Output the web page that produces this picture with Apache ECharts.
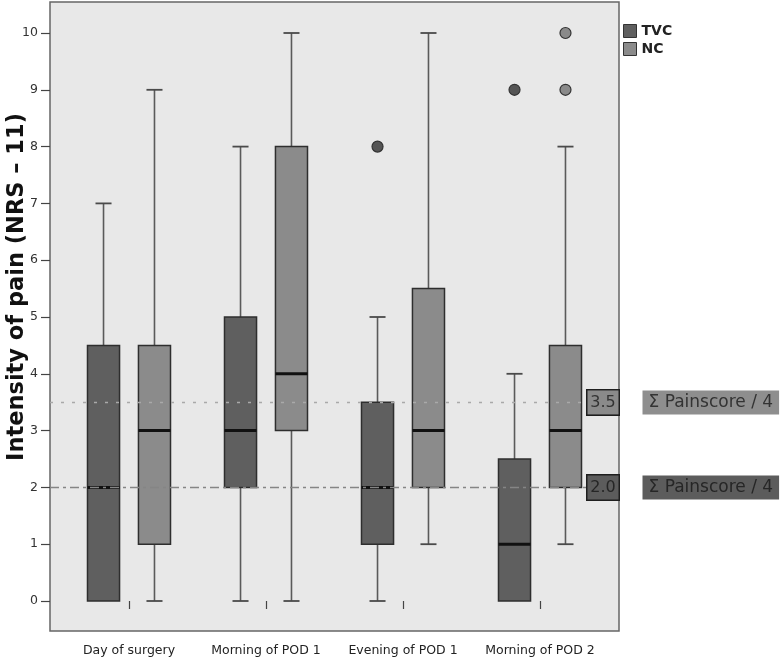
<!DOCTYPE html>
<html><head><meta charset="utf-8">
<script src="https://cdn.jsdelivr.net/npm/echarts@6/dist/echarts.min.js"></script>
<style>html,body{margin:0;padding:0;background:#fff}#c{width:781px;height:658px}</style>
</head><body><div id="c"></div>
<script>
// ---- data ----
const categories = ['Day of surgery', 'Morning of POD 1', 'Evening of POD 1', 'Morning of POD 2'];
// [min, Q1, median, Q3, max]
const tvcBoxes = [[0, 0, 2, 4.5, 7], [0, 2, 3, 5, 8], [0, 1, 2, 3.5, 5], [0, 0, 1, 2.5, 4]];
const ncBoxes = [[0, 1, 3, 4.5, 9], [0, 3, 4, 8, 10], [1, 2, 3, 5.5, 10], [1, 2, 3, 4.5, 8]];
// [category index, value]
const tvcOutliers = [[2, 8], [3, 9]];
const ncOutliers = [[3, 9], [3, 10]];
const refValues = [3.5, 2.0];
const refLabels = ['3.5', '2.0'];
const refText = 'Σ Painscore / 4';
const seriesNames = ['TVC', 'NC'];

// ---- styles ----
const FONT = 'DejaVu Sans';
const fills = ['#5f5f5f', '#8b8b8b'];
const OFFSET_RATIO = 0.186, BOX_RATIO = 0.234;

function boxRender(side, fill) {
  return function (params, api) {
    const ci = api.value(0);
    const band = api.size([1, 0])[0];
    const cx = api.coord([ci, 0])[0] + side * band * OFFSET_RATIO;
    const bw = band * BOX_RATIO;
    const y = i => api.coord([ci, api.value(i)])[1];
    const yMin = y(1), yQ1 = y(2), yMed = y(3), yQ3 = y(4), yMax = y(5);
    const ws = { stroke: '#5a5a5a', lineWidth: 1.6 };
    const ch = [];
    if (yQ3 - yMax > 0.5) {
      ch.push({ type: 'line', shape: { x1: cx, y1: yQ3, x2: cx, y2: yMax }, style: ws });
      ch.push({ type: 'line', shape: { x1: cx - bw / 4, y1: yMax, x2: cx + bw / 4, y2: yMax }, style: { stroke: '#4a4a4a', lineWidth: 1.8 } });
    }
    if (yMin - yQ1 > 0.5) {
      ch.push({ type: 'line', shape: { x1: cx, y1: yQ1, x2: cx, y2: yMin }, style: ws });
      ch.push({ type: 'line', shape: { x1: cx - bw / 4, y1: yMin, x2: cx + bw / 4, y2: yMin }, style: { stroke: '#4a4a4a', lineWidth: 1.8 } });
    }
    ch.push({ type: 'rect', shape: { x: cx - bw / 2, y: yQ3, width: bw, height: yQ1 - yQ3 }, style: { fill: fill, stroke: '#2e2e2e', lineWidth: 1.5 } });
    ch.push({ type: 'line', shape: { x1: cx - bw / 2, y1: yMed, x2: cx + bw / 2, y2: yMed }, style: { stroke: '#111', lineWidth: 3 } });
    return { type: 'group', children: ch };
  };
}
function outlierRender(side, fill) {
  return function (params, api) {
    const ci = api.value(0);
    const band = api.size([1, 0])[0];
    const p = api.coord([ci, api.value(1)]);
    return { type: 'circle', shape: { cx: p[0] + side * band * OFFSET_RATIO, cy: p[1], r: 5.5 }, style: { fill: fill, stroke: '#333', lineWidth: 1.2 } };
  };
}

const refStyles = [
  { line: { color: '#a9a9a9', width: 1.5, type: [3, 8] }, v: '#8a8a8a', t: '#8e8e8e', txt: '#333' },
  { line: { color: '#858585', width: 1.5, type: [9, 4, 3, 4] }, v: '#5c5c5c', t: '#5c5c5c', txt: '#262626' }
];

const series = [];
[tvcBoxes, ncBoxes].forEach((boxes, k) => {
  series.push({
    type: 'custom', name: seriesNames[k], xAxisIndex: 1, yAxisIndex: 1, z: 2,
    itemStyle: { color: fills[k] },
    encode: { x: 0, y: [1, 2, 3, 4, 5] },
    data: boxes.map((b, i) => [i].concat(b)),
    renderItem: boxRender(k === 0 ? -1 : 1, fills[k])
  });
});
[tvcOutliers, ncOutliers].forEach((pts, k) => {
  series.push({
    type: 'custom', name: seriesNames[k], xAxisIndex: 1, yAxisIndex: 1, z: 3,
    itemStyle: { color: fills[k] },
    encode: { x: 0, y: 1 },
    data: pts,
    renderItem: outlierRender(k === 0 ? -1 : 1, k === 0 ? '#555' : '#8a8a8a')
  });
});
refValues.forEach((v, k) => {
  const s = refStyles[k];
  series.push({
    type: 'line', xAxisIndex: 0, yAxisIndex: 0, z: 5, silent: true,
    symbol: 'circle', symbolSize: 1, itemStyle: { color: 'rgba(0,0,0,0)' },
    lineStyle: s.line,
    data: [[0, v], {
      value: [1, v],
      label: {
        show: true, position: 'right', distance: 0, offset: [-32, 0],
        formatter: '{v|' + refLabels[k] + '}{g|}{t|' + refText + '}',
        rich: {
          v: { width: 27, height: 24, padding: [0, 2], align: 'center', backgroundColor: s.v, borderColor: '#1e1e1e', borderWidth: 1.5, fontSize: 16, color: s.txt, fontFamily: FONT },
          g: { width: 24 },
          t: { height: 24, padding: [0, 6], backgroundColor: s.t, fontSize: 17, color: s.txt, fontFamily: FONT }
        }
      }
    }]
  });
});

const chart = echarts.init(document.getElementById('c'), null, { renderer: 'canvas' });
chart.setOption({
  animation: false,
  backgroundColor: '#fff',
  legend: {
    orient: 'vertical', left: 623, top: 24, padding: 0, itemGap: 4,
    itemWidth: 13, itemHeight: 13, selectedMode: false,
    textStyle: { fontFamily: FONT, fontWeight: 'bold', fontSize: 14, color: '#222' },
    data: seriesNames.map((n, k) => ({ name: n, icon: 'rect', itemStyle: { color: fills[k], borderColor: '#333', borderWidth: 1 } }))
  },
  grid: [
    { left: 50, right: 162, top: 2, bottom: 27, show: true, backgroundColor: '#e8e8e8', borderColor: '#666', borderWidth: 1.5, outerBoundsMode: 'none', containLabel: false },
    { left: 60.5, right: 172.5, top: 33, bottom: 57, outerBoundsMode: 'none', containLabel: false }
  ],
  xAxis: [
    { gridIndex: 0, type: 'value', min: 0, max: 1, show: false },
    {
      gridIndex: 1, type: 'category', data: categories, offset: 30,
      axisLine: { show: false },
      axisTick: { show: true, interval: 0, length: 8, alignWithLabel: true, lineStyle: { color: '#444', width: 1.2 } },
      axisLabel: { interval: 0, margin: 13, fontSize: 12.5, color: '#222', fontFamily: FONT, hideOverlap: false }
    }
  ],
  yAxis: [
    { gridIndex: 0, type: 'value', min: -0.53, max: 10.56, show: false },
    {
      gridIndex: 1, type: 'value', min: 0, max: 10, interval: 1, offset: 10.5,
      axisLine: { show: false }, splitLine: { show: false },
      axisTick: { show: true, length: 9, lineStyle: { color: '#444', width: 1.2 } },
      axisLabel: { margin: 12, fontSize: 12.5, color: '#333', fontFamily: FONT },
      name: 'Intensity of pain (NRS – 11)', nameLocation: 'middle', nameGap: 21, nameMoveOverlap: false,
      nameTextStyle: { fontSize: 22.5, fontWeight: 'bold', color: '#111', fontFamily: FONT, padding: [0, 0, 0, 60] }
    }
  ],
  series: series
});
</script></body></html>
